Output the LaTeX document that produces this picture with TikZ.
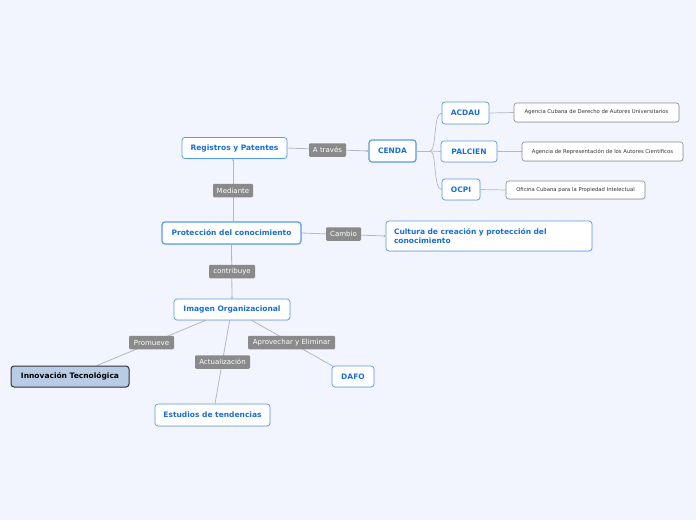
\documentclass[tikz,border=0pt]{standalone}
\usepackage{fontspec}
\setmainfont{DejaVu Sans}
\usetikzlibrary{calc,arrows.meta,shadows}
\definecolor{bgc}{HTML}{F2F5FD}
\definecolor{bc}{HTML}{5A9BE6}
\definecolor{tc}{HTML}{1B6ED6}
\definecolor{lg}{HTML}{8A8A8A}
\definecolor{ln}{HTML}{B4B8C0}
\definecolor{innf}{HTML}{B9CCE5}
\definecolor{dg}{HTML}{8C8C8C}
\pgfdeclarelayer{bg}
\pgfsetlayers{bg,main}
\tikzset{
  box/.style={draw=bc, fill=white, rounded corners=3pt, line width=0.7pt, text=tc,
    font=\bfseries\fontsize{7.5}{9}\selectfont, minimum height=21pt, inner sep=0pt,
    drop shadow={shadow xshift=0.6pt, shadow yshift=-0.8pt, opacity=0.12}},
  mainbox/.style={box, line width=1.2pt},
  desc/.style={draw=dg, fill=white, rounded corners=2.5pt, line width=0.6pt, text=black!80,
    font=\fontsize{5.3}{6.3}\selectfont, minimum height=19pt, inner sep=0pt,
    drop shadow={shadow xshift=0.6pt, shadow yshift=-0.8pt, opacity=0.12}},
  lab/.style={fill=lg, text=white, rounded corners=1.2pt, font=\fontsize{7}{8}\selectfont,
    minimum height=13.5pt, inner sep=0pt},
  conn/.style={draw=ln, line width=0.8pt},
  tipc/.style={conn, -{Straight Barb[length=1.2pt,width=2pt]}},
}
\begin{document}
\begin{tikzpicture}[x=1pt,y=-1pt]
\useasboundingbox (0,0) rectangle (696,520);
\begin{pgfonlayer}{bg}
\fill[bgc] (0,0) rectangle (696,520);
\end{pgfonlayer}

% main nodes
\node[box, minimum width=105pt] (reg) at (234.5,148) {Registros y Patentes};
\node[mainbox, minimum width=47pt, minimum height=22pt] (cenda) at (392.5,151) {CENDA};
\node[box, minimum width=47pt, minimum height=22pt] (acdau) at (465.5,113) {ACDAU};
\node[box, minimum width=56pt] (palcien) at (469,151.5) {PALCIEN};
\node[box, minimum width=38pt] (ocpi) at (461,189.5) {OCPI};
\node[desc, minimum width=165pt] (d1) at (596.5,112.5) {Agencia Cubana de Derecho de Autores Universitarios};
\node[desc, minimum width=161pt] (d2) at (602.5,151.5) {Agencia de Representación de los Autores Científicos};
\node[desc, minimum width=139pt, minimum height=18pt] (d3) at (575.5,190) {Oficina Cubana para la Propiedad Intelectual};
\node[mainbox, minimum width=139pt, minimum height=22pt] (prot) at (231.5,233) {Protección del conocimiento};
\node[box, text width=190pt, inner xsep=8pt, align=left, minimum height=30pt] (cult) at (489,236)
  {Cultura de creación y protección del\\conocimiento};
\node[box, minimum width=116pt] (img) at (232,309.5) {Imagen Organizacional};
\node[draw=black!80, fill=innf, rounded corners=3pt, line width=1pt, text=black,
  font=\bfseries\fontsize{7.5}{9}\selectfont, minimum height=21pt, minimum width=118pt, inner sep=0pt,
  drop shadow={shadow xshift=0.6pt, shadow yshift=-0.8pt, opacity=0.15}] (innov) at (70,376.5) {Innovación Tecnológica};
\node[box, minimum width=42pt] (dafo) at (353,376.5) {DAFO};
\node[box, minimum width=115pt, minimum height=22pt] (est) at (212.5,415) {Estudios de tendencias};

% connectors
\begin{pgfonlayer}{bg}
\draw[tipc] (reg.east) -- (cenda.west);
\draw[tipc] (prot.north -| 233,0) -- (reg.south -| 233,0);
\draw[tipc] (prot.south) -- (img.north);
\draw[tipc] (prot.east) -- (cult.west);
\coordinate (fan) at (430,151);
\draw[conn, line width=0.7pt] (cenda.east) -- (fan);
\draw[conn, line width=0.7pt] (fan) .. controls (437,151) and (433,113) .. (acdau.west);
\draw[conn, line width=0.7pt] (fan) -- (palcien.west);
\draw[conn, line width=0.7pt] (fan) .. controls (437,151) and (433,189.5) .. (ocpi.west);
\draw[conn, line width=0.7pt] (acdau.east) -- (d1.west);
\draw[conn, line width=0.7pt] (palcien.east) -- (d2.west);
\draw[conn, line width=0.7pt] (ocpi.east) -- (d3.west);
\draw[conn] ($(img.south west)+(32,0)$) -- ($(innov.north)+(27,0)$);
\draw[conn] ($(img.south west)+(56,0)$) -- ($(est.north)+(2.5,0)$);
\draw[conn] ($(img.south west)+(78,0)$) -- ($(dafo.north west)+(2,1)$);
\end{pgfonlayer}

% labels
\node[lab, minimum width=37pt] (l1) at (327.5,150) {A través};
\node[lab, minimum width=40pt] (l2) at (233,190.5) {Mediante};
\node[lab, minimum width=35pt] (l3) at (343.5,234) {Cambio};
\node[lab, minimum width=46pt] (l4) at (232,271.5) {contribuye};
\node[lab, minimum width=45pt] (l5) at (151.5,342.5) {Promueve};
\node[lab, minimum width=55pt] (l6) at (222.5,362) {Actualización};
\node[lab, minimum width=87pt] (l7) at (291.5,342.5) {Aprovechar y Eliminar};
\end{tikzpicture}
\end{document}
